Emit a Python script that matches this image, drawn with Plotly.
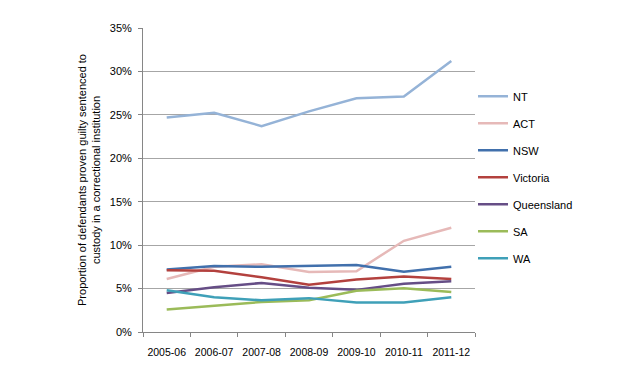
import plotly.graph_objects as go

years = ["2005-06", "2006-07", "2007-08", "2008-09", "2009-10", "2010-11", "2011-12"]
nt = [24.7, 25.25, 23.7, 25.4, 26.9, 27.1, 31.2]
act = [6.1, 7.5, 7.8, 6.9, 7.0, 10.5, 12.0]
nsw = [7.2, 7.6, 7.5, 7.6, 7.7, 6.95, 7.5]
vic = [7.1, 7.05, 6.3, 5.45, 6.05, 6.4, 6.1]
qld = [4.5, 5.15, 5.65, 5.1, 4.85, 5.55, 5.85]
sa = [2.6, 3.0, 3.45, 3.65, 4.75, 5.05, 4.6]
wa = [4.8, 4.0, 3.65, 3.9, 3.4, 3.4, 4.0]

series = [
    ("NT", nt, "#95B3D7"),
    ("ACT", act, "#E6B9B8"),
    ("NSW", nsw, "#4170AC"),
    ("Victoria", vic, "#B3413E"),
    ("Queensland", qld, "#664E86"),
    ("SA", sa, "#9BBB59"),
    ("WA", wa, "#3FA0B8"),
]

fig = go.Figure()
for i, (name, vals, color) in enumerate(series):
    fig.add_trace(go.Scatter(
        x=years, y=[v / 100 for v in vals], name=name, mode="lines",
        line=dict(color=color, width=2.5), legendgroup=f"g{i}",
    ))

fig.update_layout(
    width=620, height=372,
    margin=dict(l=135, r=153, t=20, b=48),
    paper_bgcolor="white", plot_bgcolor="white",
    font=dict(family="Liberation Sans, Arial, sans-serif", size=11, color="#000000"),
    showlegend=True,
    legend=dict(x=0.994, y=0.823, xanchor="left", yanchor="top", itemwidth=30,
                font=dict(size=11), tracegroupgap=8, bgcolor="rgba(0,0,0,0)"),
    xaxis=dict(
        type="category", tickson="boundaries", ticks="outside", ticklen=4,
        range=[-0.5, 6.5], tickangle=0, ticklabelstandoff=10,
        tickcolor="#868686", showline=True, linecolor="#868686", linewidth=1,
        showgrid=False, tickfont=dict(size=10.5),
    ),
    yaxis=dict(
        range=[0, 0.35], dtick=0.05, tickformat=".0%", ticks="outside", ticklen=4,
        ticklabelstandoff=4,
        tickcolor="#868686", showline=True, linecolor="#868686", linewidth=1,
        showgrid=True, gridcolor="#A6A6A6", gridwidth=1, zeroline=False,
        tickfont=dict(size=11),
        title=dict(text="Proportion of defendants proven guilty sentenced to<br>custody in a correctional institution",
                   font=dict(size=11), standoff=6),
    ),
)

fig.write_html("out.html")
